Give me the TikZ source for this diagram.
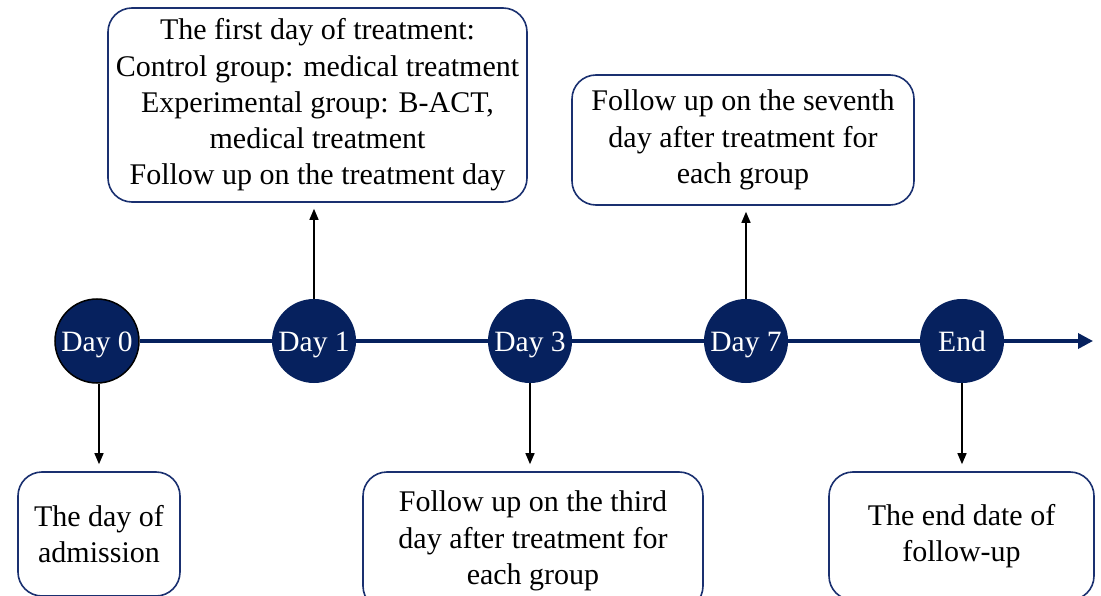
\documentclass[tikz,border=0pt]{standalone}
\usepackage{fontspec}
\setmainfont{Liberation Serif}
\usetikzlibrary{arrows.meta}
\definecolor{navy}{HTML}{06215E}
\definecolor{boxblue}{HTML}{1A3070}
\tikzset{
  daynode/.style={circle, fill=navy, text=white, minimum size=84pt, inner sep=0pt,
    text height=20pt, text depth=0pt, font=\fontsize{29.5}{34}\selectfont},
  infobox/.style={draw=boxblue, line width=1.6pt, rounded corners=24pt, fill=white,
    align=center, inner sep=0pt, font=\fontsize{30}{36.3}\selectfont},
  timeline/.style={navy, line width=3.5pt},
  upar/.style={black, line width=1.4pt, -{Triangle[length=11pt,width=9pt]}}
}
\begin{document}
\begin{tikzpicture}[x=1pt,y=-1pt]
\useasboundingbox (0,0) rectangle (1101,596);
\clip (0,0) rectangle (1101,596);
\fill[white] (0,0) rectangle (1101,596);

% timeline circles
\node[daynode, draw=black, line width=1.5pt] (d0) at (97,341) {Day 0};
\node[daynode] (d1) at (314,341) {Day 1};
\node[daynode] (d3) at (530,341) {Day 3};
\node[daynode] (d7) at (746,341) {Day 7};
\node[daynode] (end) at (962,341) {End};
\coordinate (tip) at (1093,341);

% timeline segments
\draw[timeline] (d0) -- (d1);
\draw[timeline] (d1) -- (d3);
\draw[timeline] (d3) -- (d7);
\draw[timeline] (d7) -- (end);
\draw[timeline, -{Triangle[length=15pt,width=15pt]}] (end) -- (tip);

% boxes
\node[infobox, minimum width=419pt, minimum height=194pt] (b1) at (317.5,105)
  {The first day of treatment:\\Control group: medical treatment\\Experimental group: B-ACT,\\medical treatment\\Follow up on the treatment day};
\node[infobox, minimum width=342pt, minimum height=130pt] (b2) at (743,140)
  {Follow up on the seventh\\day after treatment for\\each group};
\node[infobox, minimum width=162pt, minimum height=124pt] (b3) at (99,534)
  {The day of\\admission};
\node[infobox, minimum width=340pt, minimum height=138pt] (b4) at (533,541)
  {Follow up on the third\\day after treatment for\\each group};
\node[infobox, minimum width=265pt, minimum height=128pt] (b5) at (961.5,536)
  {The end date of\\follow-up};

% arrows
\draw[upar, shorten >=6pt] (d1.north) -- (d1.north |- b1.south);
\draw[upar, shorten >=6pt] (d7.north) -- (d7.north |- b2.south);
\draw[upar, shorten >=7pt] ([xshift=2pt]d0.south) -- ([xshift=2pt]d0.south |- b3.north);
\draw[upar, shorten >=7pt] (d3.south) -- (d3.south |- b4.north);
\draw[upar, shorten >=7pt] (end.south) -- (end.south |- b5.north);
\end{tikzpicture}
\end{document}
